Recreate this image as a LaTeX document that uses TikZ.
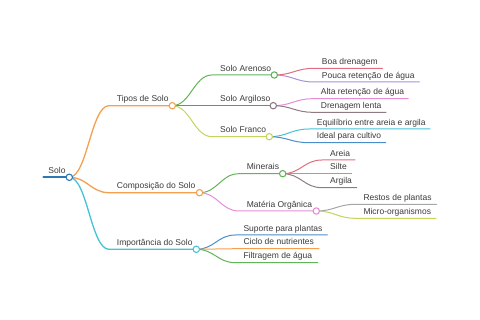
\documentclass[tikz,border=0pt]{standalone}
\usepackage{fontspec}
\setmainfont{Liberation Sans}

\definecolor{cblue}{HTML}{2F78B6}
\definecolor{corange}{HTML}{F4A050}
\definecolor{ccyan}{HTML}{45C2D6}
\definecolor{cgreen}{HTML}{62B557}
\definecolor{cmauve}{HTML}{8F7A84}
\definecolor{cyellow}{HTML}{C6D35C}
\definecolor{cred}{HTML}{E06E7E}
\definecolor{cpurple}{HTML}{A891D8}
\definecolor{cpink}{HTML}{E68DD4}
\definecolor{cblue2}{HTML}{4A8DCA}
\definecolor{cgray}{HTML}{A6A6A6}
\definecolor{textgray}{HTML}{3A3A3A}

\begin{document}
\begin{tikzpicture}[x=1pt, y=-1pt, line cap=round, line join=round,
  topic/.style={anchor=base west, inner sep=0pt, text=textgray,
    font=\fontsize{8.5}{10}\selectfont},
  knob/.style={circle, draw=#1, fill=white, line width=1.1pt,
    inner sep=0pt, minimum size=6.4pt},
  link/.style={draw=#1, line width=1pt}]

% --- Parameters ---
\def\bend{18}   % horizontal reach of the bezier handles
\def\lift{3.7}  % text baseline above its line

\useasboundingbox (0,0) rectangle (480,320);

% --- Line points: start (-a), end (-e), knob (-k) ---
\coordinate (solo-a) at (43.3,177.3);    \coordinate (solo-k) at (69.3,177.3);
\coordinate (tipos-a) at (109,105.7);    \coordinate (tipos-k) at (172.3,105.7);
\coordinate (comp-a) at (109,192.7);     \coordinate (comp-k) at (199.5,192.7);
\coordinate (imp-a) at (109,249.3);      \coordinate (imp-k) at (196.3,249.3);
\coordinate (aren-a) at (212,75);        \coordinate (aren-k) at (274.3,75);
\coordinate (argi-a) at (212,105.7);     \coordinate (argi-k) at (273.3,105.7);
\coordinate (fran-a) at (212,136.7);     \coordinate (fran-k) at (269.3,136.7);
\coordinate (mine-a) at (239,173.7);     \coordinate (mine-k) at (282.7,173.7);
\coordinate (mate-a) at (239,211);       \coordinate (mate-k) at (316.3,211);
\coordinate (supo-a) at (235.5,235);     \coordinate (supo-e) at (327.3,235);
\coordinate (cicl-a) at (235.5,248.7);   \coordinate (cicl-e) at (319,248.7);
\coordinate (filt-a) at (235.5,262.7);   \coordinate (filt-e) at (317.7,262.7);
\coordinate (boa-a) at (314,68.3);       \coordinate (boa-e) at (382.7,68.3);
\coordinate (pouc-a) at (314,82);        \coordinate (pouc-e) at (419.3,82);
\coordinate (alta-a) at (313,98.7);      \coordinate (alta-e) at (408.3,98.7);
\coordinate (dren-a) at (313,112.3);     \coordinate (dren-e) at (386,112.3);
\coordinate (equi-a) at (309,129);       \coordinate (equi-e) at (430,129);
\coordinate (idea-a) at (309,142.7);     \coordinate (idea-e) at (385.7,142.7);
\coordinate (arei-a) at (322,160);       \coordinate (arei-e) at (355,160);
\coordinate (silt-a) at (322,173.7);     \coordinate (silt-e) at (351.7,173.7);
\coordinate (argl-a) at (322,187.7);     \coordinate (argl-e) at (356.7,187.7);
\coordinate (rest-a) at (355.5,204.3);   \coordinate (rest-e) at (436.7,204.3);
\coordinate (micr-a) at (355.5,218.3);   \coordinate (micr-e) at (436,218.3);

% --- Root ---
\draw[link=cblue, line width=1.7pt] (solo-a) -- (solo-k);

% --- First level ---
\draw[link=corange, line width=1.3pt] (solo-k) .. controls +(\bend,0) and +(-\bend,0) .. (tipos-a) -- (tipos-k);
\draw[link=corange, line width=1.3pt] (solo-k) .. controls +(\bend,0) and +(-\bend,0) .. (comp-a) -- (comp-k);
\draw[link=ccyan, line width=1.3pt] (solo-k) .. controls +(\bend,0) and +(-\bend,0) .. (imp-a) -- (imp-k);

% --- Second level ---
\draw[link=cgreen] (tipos-k) .. controls +(\bend,0) and +(-\bend,0) .. (aren-a) -- (aren-k);
\draw[link=cmauve] (tipos-k) -- (argi-a) -- (argi-k);
\draw[link=cyellow] (tipos-k) .. controls +(\bend,0) and +(-\bend,0) .. (fran-a) -- (fran-k);
\draw[link=cgreen] (comp-k) .. controls +(\bend,0) and +(-\bend,0) .. (mine-a) -- (mine-k);
\draw[link=cpink] (comp-k) .. controls +(\bend,0) and +(-\bend,0) .. (mate-a) -- (mate-k);
\draw[link=cblue2] (imp-k) .. controls +(\bend,0) and +(-\bend,0) .. (supo-a) -- (supo-e);
\draw[link=corange] (imp-k) -- (cicl-a) -- (cicl-e);
\draw[link=cgreen] (imp-k) .. controls +(\bend,0) and +(-\bend,0) .. (filt-a) -- (filt-e);

% --- Third level ---
\draw[link=cred] (aren-k) .. controls +(\bend,0) and +(-\bend,0) .. (boa-a) -- (boa-e);
\draw[link=cpurple] (aren-k) .. controls +(\bend,0) and +(-\bend,0) .. (pouc-a) -- (pouc-e);
\draw[link=cpink] (argi-k) .. controls +(\bend,0) and +(-\bend,0) .. (alta-a) -- (alta-e);
\draw[link=cmauve] (argi-k) .. controls +(\bend,0) and +(-\bend,0) .. (dren-a) -- (dren-e);
\draw[link=ccyan] (fran-k) .. controls +(\bend,0) and +(-\bend,0) .. (equi-a) -- (equi-e);
\draw[link=cblue2] (fran-k) .. controls +(\bend,0) and +(-\bend,0) .. (idea-a) -- (idea-e);
\draw[link=cred] (mine-k) .. controls +(\bend,0) and +(-\bend,0) .. (arei-a) -- (arei-e);
\draw[link=cpurple] (mine-k) -- (silt-a) -- (silt-e);
\draw[link=cmauve] (mine-k) .. controls +(\bend,0) and +(-\bend,0) .. (argl-a) -- (argl-e);
\draw[link=cgray] (mate-k) .. controls +(\bend,0) and +(-\bend,0) .. (rest-a) -- (rest-e);
\draw[link=cyellow] (mate-k) .. controls +(\bend,0) and +(-\bend,0) .. (micr-a) -- (micr-e);

% --- Knobs ---
\node[knob=cblue] (solo) at (solo-k) {};
\node[knob=corange] (tipos) at (tipos-k) {};
\node[knob=corange] (comp) at (comp-k) {};
\node[knob=ccyan] (imp) at (imp-k) {};
\node[knob=cgreen] (aren) at (aren-k) {};
\node[knob=cmauve] (argi) at (argi-k) {};
\node[knob=cyellow] (fran) at (fran-k) {};
\node[knob=cgreen] (mine) at (mine-k) {};
\node[knob=cpink] (mate) at (mate-k) {};

% --- Labels ---
\node[topic] (solo-t) at ([shift={(5,-\lift)}]solo-a) {Solo};
\node[topic] (tipos-t) at ([shift={(7.7,-\lift)}]tipos-a) {Tipos de Solo};
\node[topic] (comp-t) at ([shift={(7.7,-\lift)}]comp-a) {Composição do Solo};
\node[topic] (imp-t) at ([shift={(7.7,-\lift)}]imp-a) {Importância do Solo};
\node[topic] (aren-t) at ([shift={(8,-\lift)}]aren-a) {Solo Arenoso};
\node[topic] (argi-t) at ([shift={(8,-\lift)}]argi-a) {Solo Argiloso};
\node[topic] (fran-t) at ([shift={(8,-\lift)}]fran-a) {Solo Franco};
\node[topic] (mine-t) at ([shift={(7.7,-\lift)}]mine-a) {Minerais};
\node[topic] (mate-t) at ([shift={(7.7,-\lift)}]mate-a) {Matéria Orgânica};
\node[topic] (supo-t) at ([shift={(7.8,-\lift)}]supo-a) {Suporte para plantas};
\node[topic] (cicl-t) at ([shift={(7.8,-\lift)}]cicl-a) {Ciclo de nutrientes};
\node[topic] (filt-t) at ([shift={(7.8,-\lift)}]filt-a) {Filtragem de água};
\node[topic] (boa-t) at ([shift={(7.7,-\lift)}]boa-a) {Boa drenagem};
\node[topic] (pouc-t) at ([shift={(7.7,-\lift)}]pouc-a) {Pouca retenção de água};
\node[topic] (alta-t) at ([shift={(7.7,-\lift)}]alta-a) {Alta retenção de água};
\node[topic] (dren-t) at ([shift={(7.7,-\lift)}]dren-a) {Drenagem lenta};
\node[topic] (equi-t) at ([shift={(7.7,-\lift)}]equi-a) {Equilíbrio entre areia e argila};
\node[topic] (idea-t) at ([shift={(7.7,-\lift)}]idea-a) {Ideal para cultivo};
\node[topic] (arei-t) at ([shift={(8,-\lift)}]arei-a) {Areia};
\node[topic] (silt-t) at ([shift={(8,-\lift)}]silt-a) {Silte};
\node[topic] (argl-t) at ([shift={(8,-\lift)}]argl-a) {Argila};
\node[topic] (rest-t) at ([shift={(7.8,-\lift)}]rest-a) {Restos de plantas};
\node[topic] (micr-t) at ([shift={(7.8,-\lift)}]micr-a) {Micro-organismos};

\end{tikzpicture}
\end{document}
